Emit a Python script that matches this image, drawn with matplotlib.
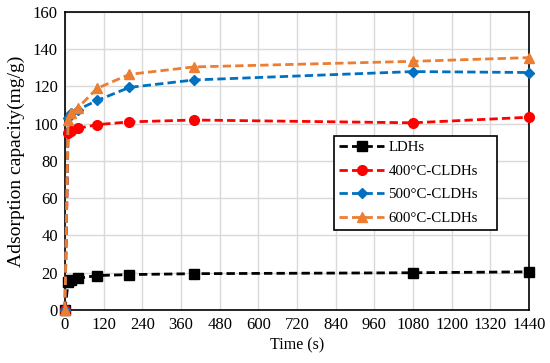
import matplotlib
matplotlib.use("Agg")
import matplotlib.pyplot as plt

plt.rcParams['font.family'] = ['Liberation Serif', 'DejaVu Serif']

time_s = [0, 10, 20, 40, 100, 200, 400, 1080, 1440]
ldhs = [0, 15, 16, 17, 18.5, 19, 19.5, 20, 20.5]
cldh400 = [0, 95, 96, 97.5, 99.5, 101, 102, 100.5, 103.5]
cldh500 = [0, 103, 106, 107.5, 112.5, 119.5, 123.5, 128, 127.5]
cldh600 = [0, 102, 106, 108.5, 119, 126.5, 130.5, 133.5, 135.5]

series = [
    ("LDHs", ldhs, "black", "s"),
    ("400\u00b0C-CLDHs", cldh400, "#FF0000", "o"),
    ("500\u00b0C-CLDHs", cldh500, "#0070C0", "D"),
    ("600\u00b0C-CLDHs", cldh600, "#ED7D31", "^"),
]

xticks = list(range(0, 1441, 120))
yticks = list(range(0, 161, 20))

fig = plt.figure(figsize=(5.5, 3.63), dpi=100)
ax = fig.add_axes([0.118, 0.146, 0.844, 0.821])

for name, vals, col, mk in series:
    ms = 7 if mk != "D" else 5.5
    ax.plot(time_s, vals, linestyle=(0, (3, 1.5)), color=col, lw=2,
            marker=mk, markersize=ms, markerfacecolor=col, markeredgecolor=col,
            label=name, zorder=3, clip_on=False)

ax.set_xlim(0, 1440)
ax.set_ylim(0, 160)
ax.set_xticks(xticks)
ax.set_yticks(yticks)
ax.grid(True, color="#D9D9D9", lw=1)
ax.set_axisbelow(True)
for s in ax.spines.values():
    s.set_color("black")
    s.set_linewidth(1.2)
ax.tick_params(axis='both', length=0, labelsize=12, pad=5, colors="black")
ax.set_xlabel("Time (s)", fontsize=11.5, labelpad=3)
ax.set_ylabel("Adsorption capacity(mg/g)", fontsize=14, labelpad=6)

leg = ax.legend(loc="upper left", bbox_to_anchor=(0.580, 0.268, 0.351, 0.317),
                mode="expand", fontsize=10.7,
                frameon=True, fancybox=False, edgecolor="black", framealpha=1,
                handlelength=3.0, borderpad=0.35, labelspacing=0.68,
                handletextpad=0.3, borderaxespad=0)
leg.get_frame().set_linewidth(1.2)

fig.savefig("out.png", dpi=100)
